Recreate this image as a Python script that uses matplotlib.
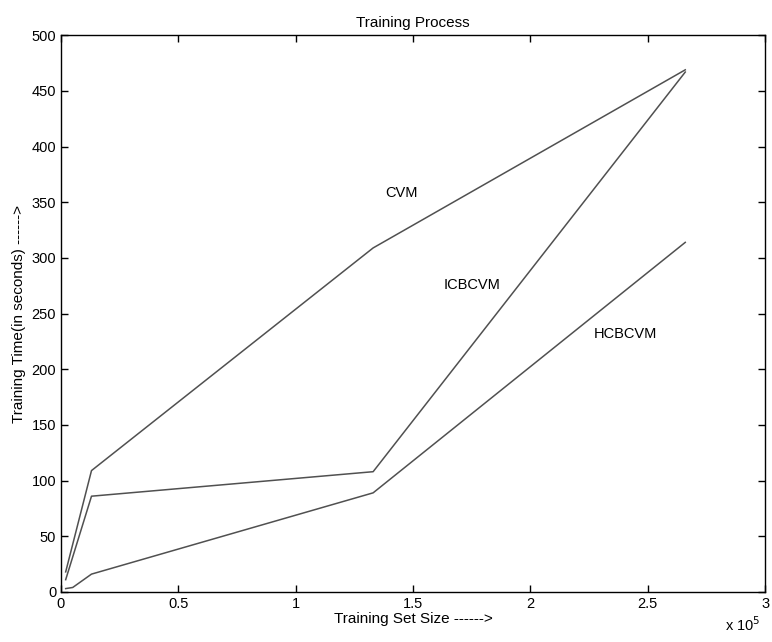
import matplotlib
matplotlib.use("Agg")
import matplotlib.pyplot as plt
from matplotlib.ticker import FuncFormatter

plt.rcParams["font.family"] = ["Liberation Sans", "DejaVu Sans"]

# training set sizes
size_cvm = [2000, 13000, 133000, 266000]
size_icb = [2000, 13000, 133000, 266000]
size_hcb = [2000, 5000, 13000, 133000, 266000]

# training times (seconds)
time_cvm = [18, 109, 309, 469]
time_icb = [11, 86, 108, 467]
time_hcb = [3, 4, 16, 89, 314]

LINE_COLOR = "#505050"

fig = plt.figure(figsize=(7.72, 6.42), dpi=100)
ax = fig.add_axes([0.079, 0.078, 0.912, 0.867])

ax.plot(size_cvm, time_cvm, color=LINE_COLOR, linewidth=1.1)
ax.plot(size_icb, time_icb, color=LINE_COLOR, linewidth=1.1)
ax.plot(size_hcb, time_hcb, color=LINE_COLOR, linewidth=1.1)

ax.text(1.38e5, 358, "CVM", fontsize=10.5, va="center")
ax.text(1.63e5, 276, "ICBCVM", fontsize=10.5, va="center")
ax.text(2.27e5, 232, "HCBCVM", fontsize=10.5, va="center")

ax.set_xlim(0, 3e5)
ax.set_ylim(0, 500)
ax.set_xticks([0, 0.5e5, 1e5, 1.5e5, 2e5, 2.5e5, 3e5])
ax.xaxis.set_major_formatter(FuncFormatter(lambda v, p: f"{v / 1e5:g}"))
ax.set_yticks(range(0, 501, 50))

ax.tick_params(direction="in", top=True, right=True, labelsize=10.5, length=5, width=1)
for spine in ax.spines.values():
    spine.set_linewidth(1)

ax.set_title("Training Process", fontsize=11, pad=6)
ax.set_xlabel("Training Set Size ------>", fontsize=11, labelpad=1)
ax.set_ylabel("Training Time(in seconds) ------>", fontsize=11, labelpad=4)

fig.text(0.962, 0.012, r"x 10$^5$", fontsize=10.5, ha="center", va="bottom")

fig.savefig("out.png", dpi=100)
plt.close(fig)
